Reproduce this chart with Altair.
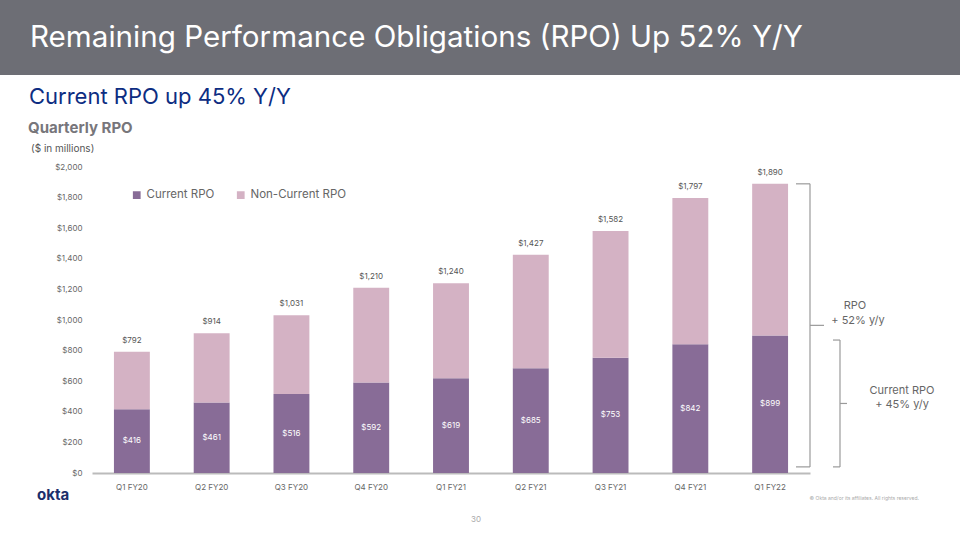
import altair as alt
import pandas as pd

quarters = ["Q1 FY20", "Q2 FY20", "Q3 FY20", "Q4 FY20", "Q1 FY21",
            "Q2 FY21", "Q3 FY21", "Q4 FY21", "Q1 FY22"]
current = [416, 461, 516, 592, 619, 685, 753, 842, 899]
total = [792, 914, 1031, 1210, 1240, 1427, 1582, 1797, 1890]
noncurrent = [t - c for t, c in zip(total, current)]
series = ["Current RPO", "Non-Current RPO"]
colors = ["#886c97", "#d4b2c4"]
y_ticks = [0, 200, 400, 600, 800, 1000, 1200, 1400, 1600, 1800, 2000]

FONT = "Inter"
W, H = 718, 306
L, T = 92, 167

rows = []
for q, c, n in zip(quarters, current, noncurrent):
    rows.append({"q": q, "series": series[0], "v": c, "o": 0})
    rows.append({"q": q, "series": series[1], "v": n, "o": 1})
df = pd.DataFrame(rows)
tot_df = pd.DataFrame({"q": quarters, "total": total, "current": current})

xscale = alt.Scale(paddingInner=0.55, paddingOuter=0.275)
xaxis = alt.Axis(title=None, labelAngle=0, ticks=False, labelPadding=10,
                 labelFontSize=8, labelColor="#666", labelFont=FONT,
                 domainColor="#bbbbbb", domainWidth=2)
yscale = alt.Scale(domain=[0, 2000])
yaxis = alt.Axis(title=None, values=y_ticks, format="$,.0f",
                 grid=False, domain=False, ticks=False, labelPadding=10,
                 labelOverlap=False, labelFontSize=8, labelColor="#666", labelFont=FONT)

bars = alt.Chart(df).mark_bar().encode(
    x=alt.X("q:N", sort=quarters, scale=xscale, axis=xaxis),
    y=alt.Y("v:Q", stack="zero", scale=yscale, axis=yaxis),
    color=alt.Color("series:N", sort=series,
                    scale=alt.Scale(domain=series, range=colors),
                    legend=alt.Legend(title=None, orient="none", legendX=39, legendY=22,
                                      direction="horizontal", symbolType="square",
                                      symbolSize=60, labelFontSize=11.5, labelColor="#666",
                                      labelFont=FONT, columnPadding=20, symbolStrokeWidth=0)),
    order=alt.Order("o:Q"),
)

tot_lbl = alt.Chart(tot_df).mark_text(fontSize=8, color="#555", dy=-11, font=FONT).encode(
    x=alt.X("q:N", sort=quarters, scale=xscale, axis=xaxis),
    y=alt.Y("total:Q", scale=yscale, axis=yaxis),
    text=alt.Text("total:Q", format="$,.0f"))
cur_lbl = alt.Chart(tot_df).mark_text(fontSize=8, color="white", font=FONT).encode(
    x=alt.X("q:N", sort=quarters, scale=xscale, axis=xaxis),
    y=alt.Y("mid:Q", scale=yscale, axis=yaxis),
    text=alt.Text("current:Q", format="$,.0f")).transform_calculate(mid="datum.current/2")


def txt(s, x, y, size, color, weight="normal", align="left", font=FONT):
    return alt.Chart(pd.DataFrame({"t": [s]})).mark_text(
        fontSize=size, color=color, fontWeight=weight, align=align, baseline="middle", font=font
    ).encode(text="t:N", x=alt.value(x - L), y=alt.value(y - T))


one = pd.DataFrame({"a": [0]})
banner = alt.Chart(one).mark_rect(color="#6d6e75").encode(
    x=alt.value(-L), x2=alt.value(960 - L), y=alt.value(-T), y2=alt.value(75 - T))


def vrule(xp, y1, y2):
    return alt.Chart(one).mark_rule(color="#9a9a9a", strokeWidth=1.2).encode(
        x=alt.value(xp - L), y=alt.datum(y1, scale=yscale, axis=yaxis), y2=alt.datum(y2))


def hrule(x1, x2, yv):
    return alt.Chart(one).mark_rule(color="#9a9a9a", strokeWidth=1.2).encode(
        x=alt.value(x1 - L), x2=alt.value(x2 - L), y=alt.datum(yv, scale=yscale, axis=yaxis))


rpo_top, rpo_bot = total[-1], 40
cur_top, cur_bot = current[-1] - 30, 40
rpo_mid = (rpo_top + rpo_bot) / 2
cur_mid = (cur_top + cur_bot) / 2
brackets = [
    vrule(810, rpo_top, rpo_bot), hrule(796, 810, rpo_top), hrule(796, 810, rpo_bot), hrule(810, 824, rpo_mid),
    vrule(840, cur_top, cur_bot), hrule(833, 840, cur_top), hrule(833, 840, cur_bot), hrule(840, 847, cur_mid),
]


def ann(s, xp, yv, dy):
    return alt.Chart(one).mark_text(fontSize=11, color="#666", font=FONT, dy=dy).encode(
        x=alt.value(xp - L), y=alt.datum(yv, scale=yscale, axis=yaxis), text=alt.value(s))


anns = [
    ann("RPO", 855, rpo_mid, -19),
    ann("+ 52% y/y", 858, rpo_mid, -4),
    ann("Current RPO", 902, cur_mid, -12),
    ann("+ 45% y/y", 902, cur_mid, 2),
]

texts = [
    txt("Remaining Performance Obligations (RPO) Up 52% Y/Y", 30, 38, 29.6, "white"),
    txt("Current RPO up 45% Y/Y", 29, 97, 22, "#0d2d82"),
    txt("Quarterly RPO", 28, 128, 15, "#77767b", weight="bold"),
    txt("($ in millions)", 31, 149, 10, "#555"),
    txt("okta", 37, 495, 15, "#1b2f6b", weight="bold"),
    txt("© Okta and/or its affiliates. All rights reserved.", 919, 498, 5, "#aaa", align="right"),
    txt("30", 476, 520, 8, "#aaa", align="center"),
]

chart = alt.layer(banner, bars, tot_lbl, cur_lbl, *brackets, *anns, *texts).properties(
    width=W, height=H,
    autosize=alt.AutoSizeParams(type="none"),
    padding={"left": L, "top": T, "right": 960 - L - W, "bottom": 540 - T - H},
    background="white",
).configure_view(stroke=None, clip=False).configure_axisY(labelOverlap=False)

chart.save("out.html", embed_options={"renderer": "svg", "actions": False})
